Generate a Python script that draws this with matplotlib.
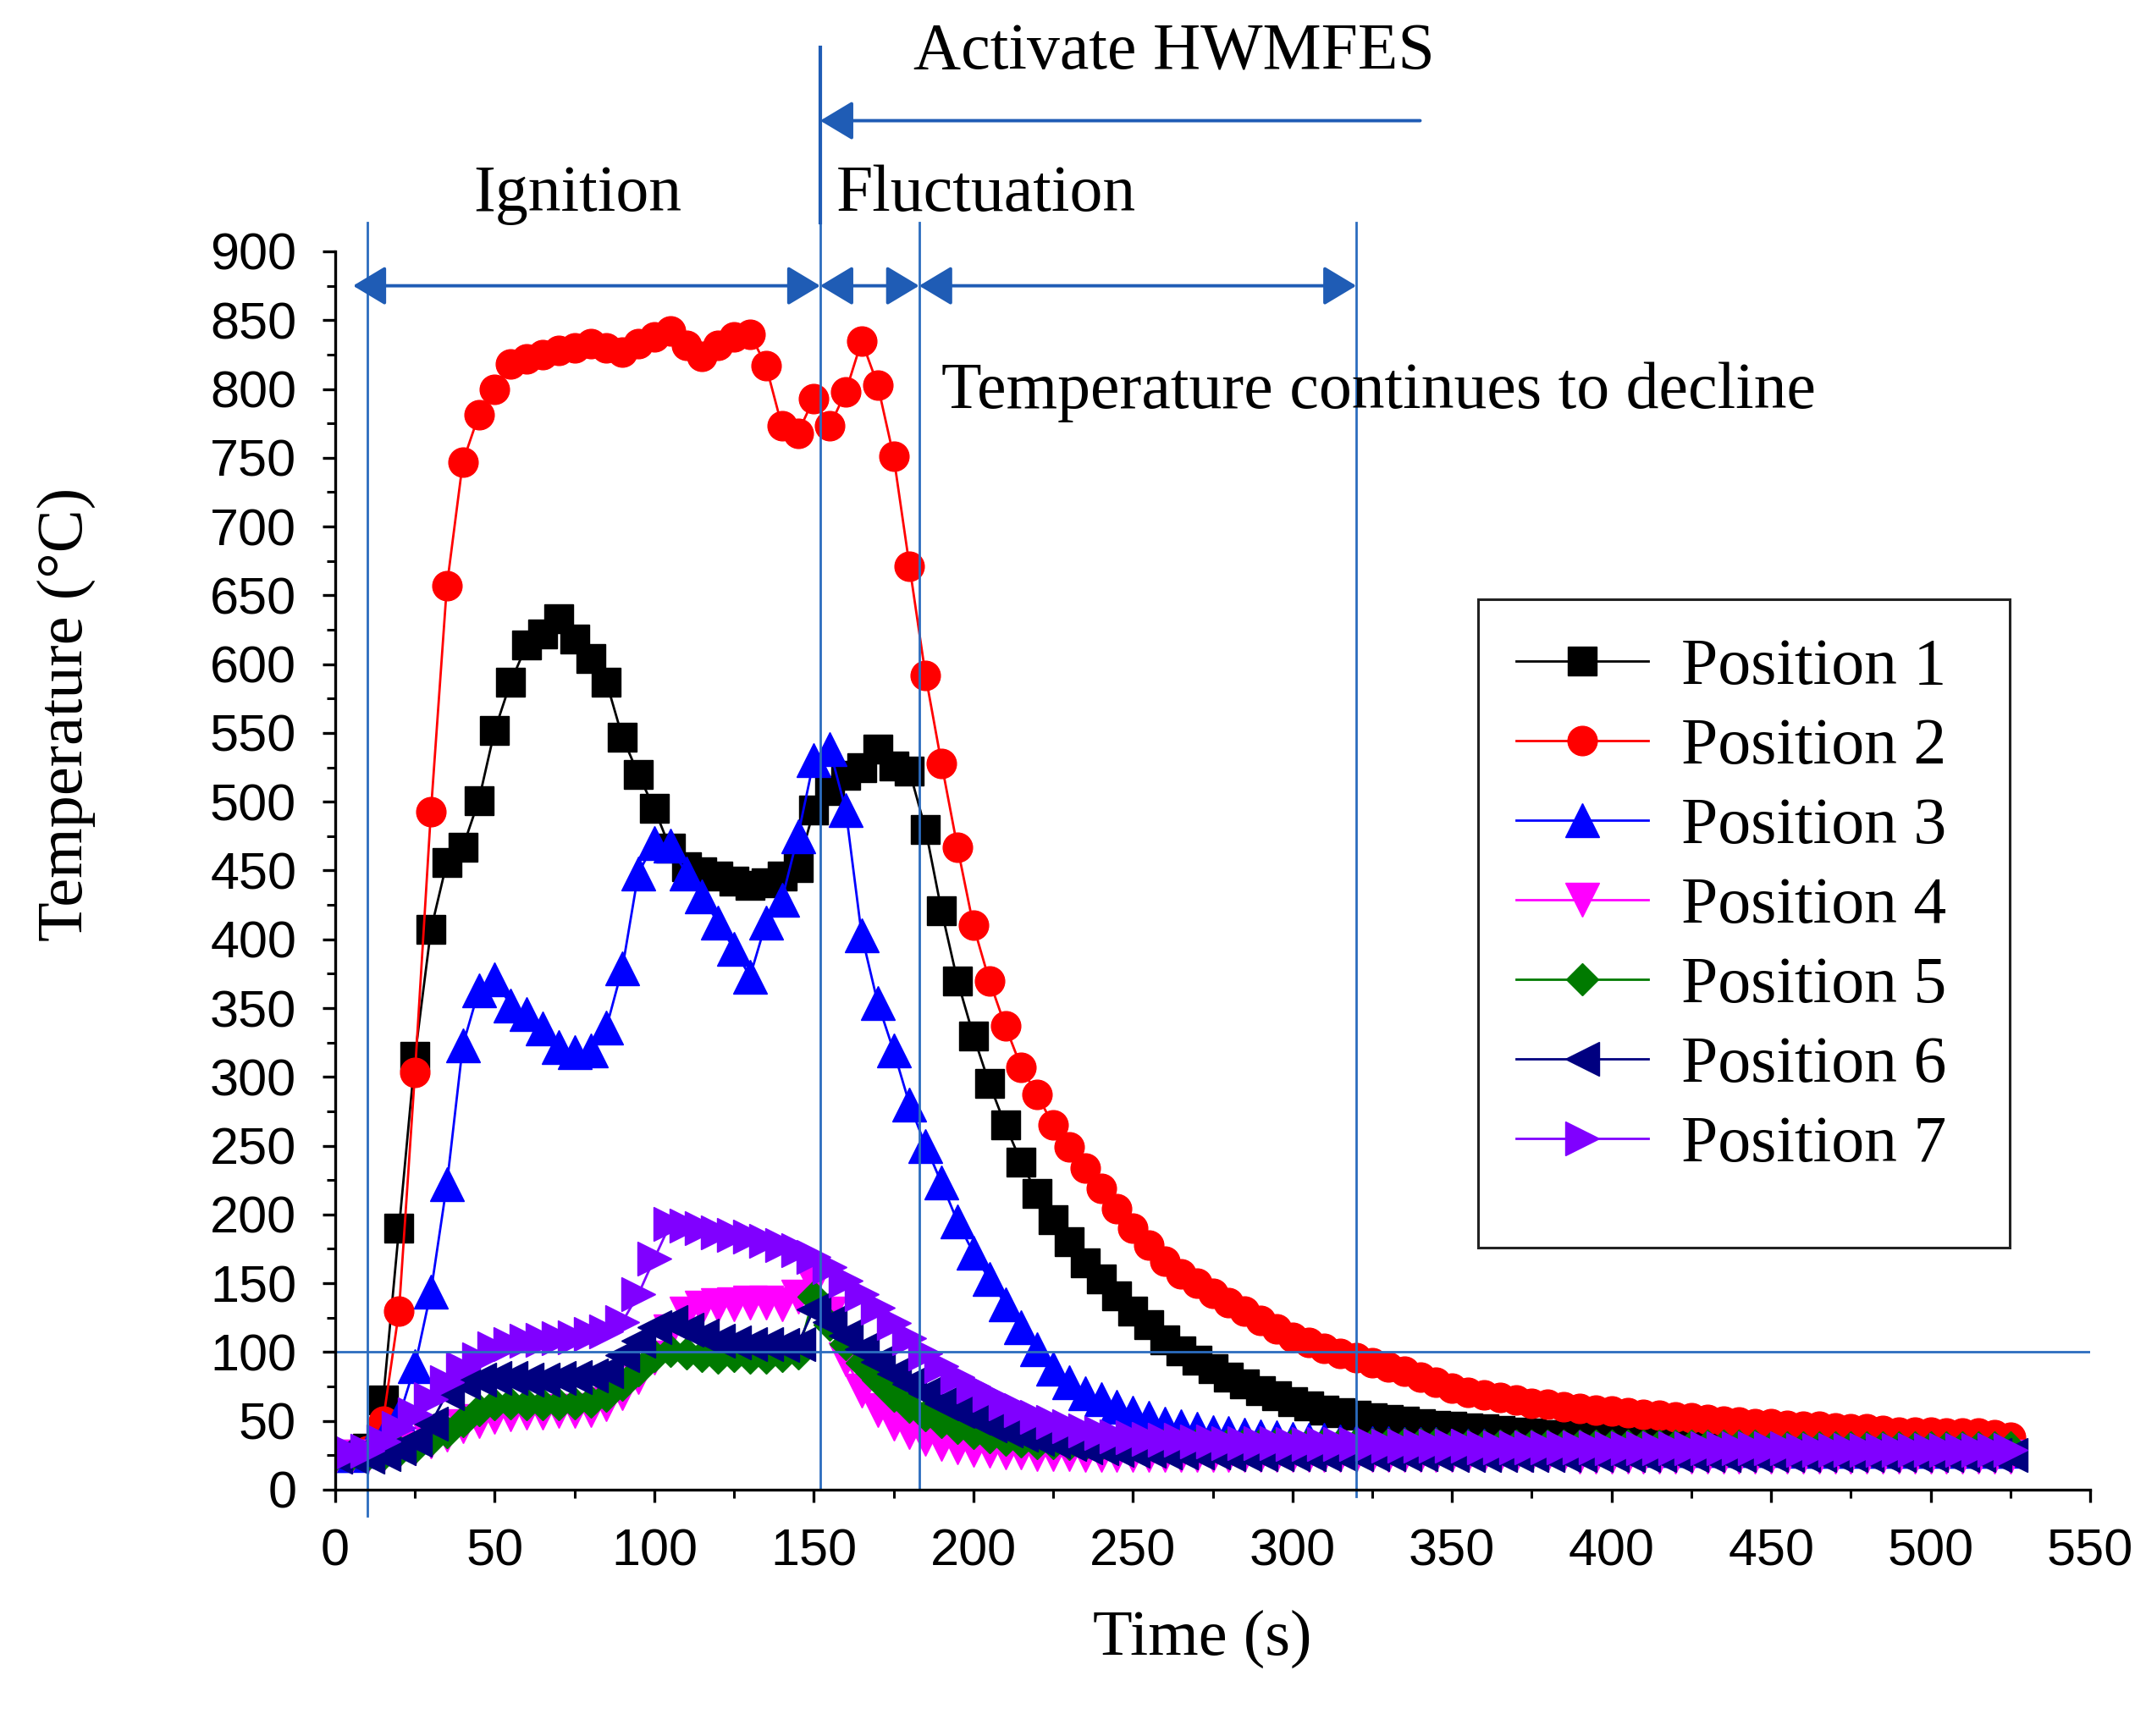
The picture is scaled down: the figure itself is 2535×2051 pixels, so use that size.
import numpy as np
import matplotlib
matplotlib.use('Agg')
import matplotlib.pyplot as plt
from matplotlib.patches import Rectangle, ArrowStyle
from matplotlib.ticker import MultipleLocator

# sampling every 5 s
time_s = np.arange(0, 530, 5)

position_1 = [25, 25, 30, 65, 190, 315, 407, 456, 467, 501,
              552, 587, 614, 622, 633, 618, 604, 587, 547, 520,
              495, 466, 453, 449, 446, 442, 439, 441, 446, 452,
              494, 508, 519, 525, 538, 526, 522, 480, 421, 370,
              330, 295, 265, 238, 215, 196, 180, 165, 153, 141,
              130, 120, 109, 101, 94, 88, 82, 77, 72, 68,
              64, 61, 58, 56, 54, 52, 51, 50, 48, 47,
              46, 45, 44, 43, 42, 41, 40, 40, 39, 38,
              37, 36, 36, 35, 34, 34, 33, 33, 32, 32,
              31, 31, 30, 30, 30, 29, 29, 29, 29, 28,
              28, 28, 28, 28, 28, 27]
position_2 = [25, 25, 28, 50, 130, 303, 493, 657, 747, 781,
              800, 818, 822, 825, 828, 830, 833, 830, 827, 833,
              838, 842, 832, 824, 832, 838, 840, 817, 773, 768,
              793, 773, 798, 835, 803, 751, 671, 592, 528, 467,
              410, 370, 337, 307, 287, 265, 249, 234, 219, 204,
              190, 178, 166, 157, 150, 143, 136, 130, 123, 117,
              111, 107, 103, 99, 96, 92, 89, 86, 82, 78,
              74, 71, 69, 67, 65, 63, 62, 60, 59, 58,
              57, 56, 55, 54, 53, 52, 51, 50, 49, 48,
              48, 47, 46, 46, 45, 44, 44, 43, 42, 42,
              42, 41, 41, 41, 40, 38]
position_3 = [25, 25, 28, 38, 53, 90, 144, 222, 323, 363,
              371, 352, 346, 335, 322, 318, 319, 336, 379, 448,
              470, 468, 448, 431, 412, 393, 373, 412, 429, 475,
              530, 538, 494, 403, 354, 319, 280, 250, 223, 195,
              172, 153, 135, 118, 102, 88, 78, 70, 66, 60,
              56, 52, 48, 46, 44, 42, 41, 40, 39, 38,
              37, 36, 36, 35, 35, 34, 34, 33, 33, 33,
              32, 32, 32, 31, 31, 31, 31, 30, 30, 30,
              30, 30, 30, 29, 29, 29, 29, 29, 29, 29,
              29, 29, 28, 28, 28, 28, 28, 28, 28, 28,
              28, 28, 28, 28, 28, 28]
position_4 = [24, 24, 24, 25, 27, 30, 35, 40, 46, 50,
              53, 55, 56, 56, 57, 57, 58, 62, 70, 82,
              96, 115, 128, 132, 134, 135, 136, 136, 135, 140,
              150, 128, 95, 72, 58, 48, 42, 37, 33, 31,
              29, 28, 27, 27, 26, 26, 26, 25, 25, 25,
              25, 25, 25, 25, 25, 25, 25, 25, 25, 25,
              25, 25, 25, 25, 25, 25, 25, 25, 25, 25,
              25, 25, 25, 25, 25, 25, 25, 25, 24, 24,
              24, 24, 24, 24, 24, 24, 24, 24, 24, 24,
              24, 24, 24, 24, 24, 24, 24, 24, 24, 24,
              24, 24, 24, 24, 24, 24]
position_5 = [25, 25, 25, 26, 28, 31, 36, 42, 50, 58,
              62, 63, 62, 62, 62, 63, 64, 68, 76, 87,
              97, 101, 99, 97, 96, 97, 96, 96, 97, 99,
              140, 120, 106, 92, 80, 68, 60, 54, 49, 45,
              41, 38, 36, 35, 34, 34, 33, 33, 33, 33,
              33, 33, 33, 33, 33, 33, 33, 33, 33, 33,
              33, 33, 33, 33, 33, 33, 33, 33, 33, 33,
              32, 32, 32, 32, 32, 32, 32, 32, 32, 32,
              32, 32, 32, 32, 32, 32, 32, 32, 32, 32,
              31, 31, 31, 31, 31, 31, 31, 31, 31, 31,
              31, 31, 31, 31, 31, 31]
position_6 = [24, 24, 24, 26, 30, 36, 48, 70, 78, 80,
              81, 81, 80, 80, 81, 82, 83, 86, 98, 108,
              118, 122, 116, 112, 108, 107, 106, 106, 105, 106,
              131, 122, 112, 102, 93, 84, 77, 70, 63, 57,
              52, 47, 43, 40, 37, 35, 33, 31, 30, 29,
              28, 28, 27, 27, 27, 27, 26, 26, 26, 26,
              26, 26, 26, 26, 26, 26, 26, 26, 26, 26,
              25, 25, 25, 25, 25, 25, 25, 25, 25, 25,
              25, 25, 25, 25, 25, 25, 25, 25, 25, 25,
              25, 25, 25, 25, 25, 25, 25, 25, 25, 25,
              25, 25, 25, 25, 25, 25]
position_7 = [27, 27, 28, 35, 45, 55, 66, 78, 88, 95,
              103, 106, 108, 109, 110, 111, 113, 115, 122, 142,
              168, 193, 192, 190, 187, 185, 184, 181, 178, 174,
              169, 162, 152, 142, 132, 121, 110, 99, 90, 82,
              75, 69, 63, 58, 53, 49, 46, 43, 41, 39,
              38, 37, 36, 36, 35, 35, 34, 34, 34, 34,
              33, 33, 33, 33, 33, 33, 32, 32, 32, 32,
              32, 32, 31, 31, 31, 31, 31, 31, 31, 31,
              30, 30, 30, 30, 30, 30, 30, 30, 30, 30,
              30, 30, 29, 29, 29, 29, 29, 29, 29, 29,
              29, 29, 29, 29, 29, 29]

series = [position_1, position_2, position_3, position_4,
          position_5, position_6, position_7]
names = ['Position 1', 'Position 2', 'Position 3', 'Position 4',
         'Position 5', 'Position 6', 'Position 7']
colors = ['#000000', '#ff0000', '#0000ff', '#ff00ff', '#007a00', '#000080', '#8000ff']
markers = ['s', 'o', '^', 'v', 'D', '<', '>']
msizes = [25, 25, 29, 29, 19, 29, 29]

# stage markers (s) and threshold (deg C)
stage_bounds = [10, 152, 183, 320]
hwmfes_on = 152
hwmfes_arrow_from = 340
threshold = 100

serif = 'Liberation Serif'
sans = 'Liberation Sans'
line_blue = '#2b6cbf'
arrow_blue = '#1f5cb5'

fig = plt.figure(figsize=(25.35, 20.51), dpi=100)
ax = fig.add_axes([0.1562, 0.1419, 0.8178, 0.7133])

handles = []
for y, name, c, m, ms in zip(series, names, colors, markers, msizes):
    h, = ax.plot(time_s, y, color=c, marker=m, markersize=ms, lw=2,
                 markeredgecolor=c, markeredgewidth=1, label=name)
    handles.append(h)

ax.set_xlim(0, 550)
ax.set_ylim(0, 900)
ax.xaxis.set_major_locator(MultipleLocator(50))
ax.xaxis.set_minor_locator(MultipleLocator(25))
ax.yaxis.set_major_locator(MultipleLocator(50))
ax.yaxis.set_minor_locator(MultipleLocator(25))
for side in ['top', 'right']:
    ax.spines[side].set_visible(False)
for side in ['left', 'bottom']:
    ax.spines[side].set_linewidth(2.4)
ax.tick_params(which='major', direction='out', length=11, width=2.4, pad=22,
               labelsize=44)
ax.tick_params(which='minor', direction='out', length=7, width=2.2)
for lab in ax.get_xticklabels() + ax.get_yticklabels():
    lab.set_family(sans)

ax.set_xlabel('Time (s)', fontsize=55, family=serif)
ax.set_ylabel('Temperature (\u00b0C)', fontsize=55, family=serif)
ax.xaxis.set_label_coords(0.494, -0.097)
ax.yaxis.set_label_coords(-0.1365, 0.626)

# threshold line and stage boundaries
ax.axhline(threshold, color=line_blue, lw=2)
ax.plot([stage_bounds[0]] * 2, [-19, 921], color=line_blue, lw=2, clip_on=False)
ax.plot([stage_bounds[1]] * 2, [0, 921], color=line_blue, lw=2, clip_on=False)
ax.plot([stage_bounds[2]] * 2, [0, 921], color=line_blue, lw=2, clip_on=False)
ax.plot([stage_bounds[3]] * 2, [-5, 921], color=line_blue, lw=2, clip_on=False)
ax.plot([hwmfes_on] * 2, [921, 1048], color=arrow_blue, lw=3, clip_on=False)

dbl = ArrowStyle('<|-|>', head_length=0.6, head_width=0.36)
one = ArrowStyle('-|>', head_length=0.6, head_width=0.36)
spans = [(5.6, stage_bounds[1]), (stage_bounds[1], stage_bounds[2]),
         (stage_bounds[2], stage_bounds[3])]
for a, b in spans:
    ax.annotate('', xy=(b, 875), xytext=(a, 875), annotation_clip=False,
                arrowprops=dict(arrowstyle=dbl, mutation_scale=40, lw=2.8,
                                color=arrow_blue, shrinkA=0, shrinkB=0))
ax.annotate('', xy=(hwmfes_on, 995), xytext=(hwmfes_arrow_from, 995),
            annotation_clip=False,
            arrowprops=dict(arrowstyle=one, mutation_scale=40, lw=2.8,
                            color=arrow_blue, shrinkA=0, shrinkB=0))

ax.text(263, 1044, 'Activate HWMFES', fontsize=56, family=serif,
        ha='center', va='center', clip_on=False)
ax.text(76, 941, 'Ignition', fontsize=56, family=serif,
        ha='center', va='center', clip_on=False)
ax.text(204, 941, 'Fluctuation', fontsize=56, family=serif,
        ha='center', va='center', clip_on=False)
ax.text(327, 798, 'Temperature continues to decline', fontsize=56, family=serif,
        ha='center', va='center', clip_on=False)

ax.legend(handles=handles, loc='upper left', bbox_to_anchor=(0.673, 0.688),
          frameon=False, prop={'family': serif, 'size': 56}, handlelength=2.0,
          handletextpad=0.5, labelspacing=0.29, borderpad=0, borderaxespad=0,
          numpoints=1, markerscale=1.0)
ax.add_patch(Rectangle((0.651, 0.1955), 0.303, 0.5235, transform=ax.transAxes,
                       fill=False, lw=2.2, edgecolor='#222222', clip_on=False,
                       zorder=5))

fig.savefig('out.png', dpi=100, facecolor='white')
